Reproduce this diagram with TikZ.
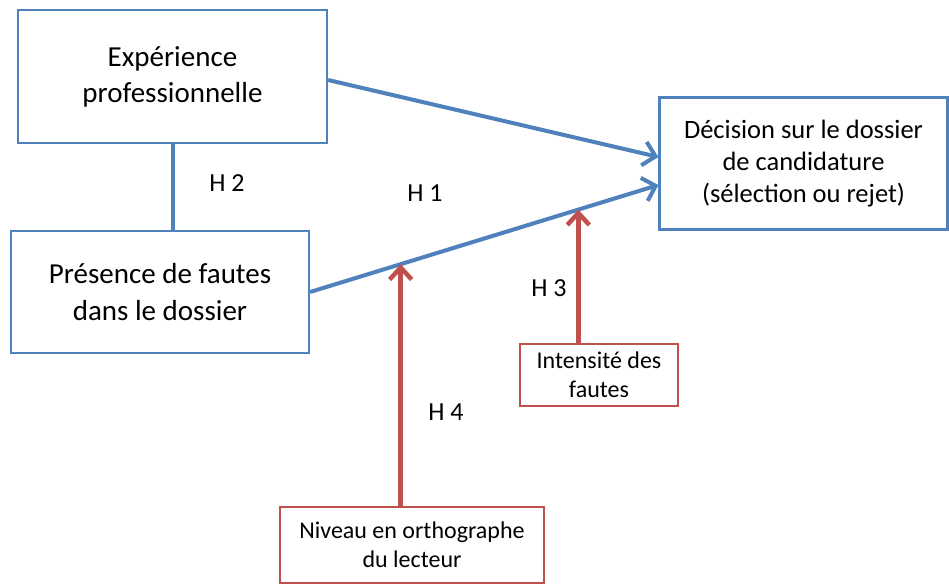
\documentclass[tikz,border=0pt]{standalone}
\usepackage{fontspec}
\setmainfont{Carlito}
\usetikzlibrary{arrows.meta,calc}
\definecolor{boxblue}{HTML}{4F81BD}
\definecolor{boxred}{HTML}{C0504D}
\begin{document}
\begin{tikzpicture}[x=1pt,y=-1pt,
  bluebox/.style={draw=boxblue, line width=2.2pt, fill=white, align=center, inner sep=0pt},
  redbox/.style={draw=boxred, line width=2.2pt, fill=white, align=center, inner sep=0pt,
    font={\fontsize{24}{29}\selectfont}},
  bluearrow/.style={draw=boxblue, line width=4pt, -{Straight Barb[length=12pt,width=24pt]}},
  redarrow/.style={draw=boxred, line width=4.5pt, -{Straight Barb[length=12pt,width=22pt]}},
  hlabel/.style={font={\fontsize{26}{30}\selectfont}, inner sep=0pt}]
\useasboundingbox (0,0) rectangle (949,586);
\fill[white] (0,0) rectangle (949,586);

\node[bluebox, minimum width=309pt, minimum height=133pt, font={\fontsize{29}{36}\selectfont}]
  (exp) at (172.5,76.5) {Expérience\\professionnelle};
\node[bluebox, minimum width=298pt, minimum height=122pt, font={\fontsize{29}{37}\selectfont}]
  (pres) at (160,292) {Présence de fautes\\dans le dossier};
\node[bluebox, minimum width=288pt, minimum height=132pt, font={\fontsize{26.5}{32}\selectfont}]
  (dec) at (803.5,163.5) {Décision sur le dossier\\de candidature\\(sélection ou rejet)};
\node[redbox, minimum width=158pt, minimum height=62pt] (int) at (599,375) {Intensité des\\fautes};
\node[redbox, minimum width=264pt, minimum height=76pt] (niv) at (412,545) {Niveau en orthographe\\du lecteur};

\coordinate (a1s) at ($(exp.east)+(0,3.5)$);
\coordinate (a1e) at ($(dec.west)+(0,-6.5)$);
\coordinate (a2e) at ($(dec.west)+(0,21.5)$);
\coordinate (h4e) at ($(pres.east)!0.26!(a2e)$);
\coordinate (h3e) at ($(pres.east)!0.77!(a2e)$);

\draw[boxblue, line width=4pt] (exp.south) -- (exp.south |- pres.north);
\draw[bluearrow] (a1s) -- (a1e);
\draw[bluearrow] (pres.east) -- (a2e);
\draw[redarrow] (h4e |- niv.north) -- (h4e);
\draw[redarrow] (h3e |- int.north) -- (h3e);

\node[hlabel] (h1) at (425,193) {H 1};
\node[hlabel] (h2) at (227,183) {H 2};
\node[hlabel] (h3) at (549,288) {H 3};
\node[hlabel] (h4) at (446,412) {H 4};
\end{tikzpicture}
\end{document}
